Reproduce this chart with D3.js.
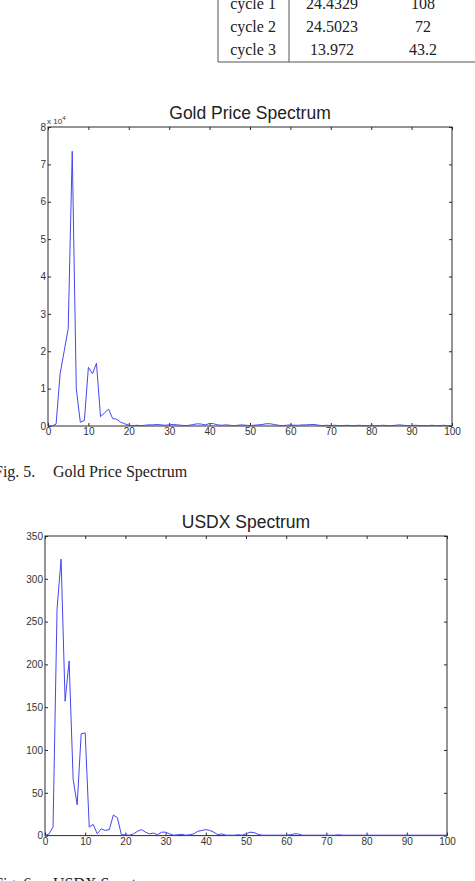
<!doctype html>
<html>
<head>
    <title>Spectrum charts</title>
    <script src='https://d3js.org/d3.v7.min.js'></script>
    <style>
        body { margin: 0; background: #fff; }
        svg { display: block; }
    </style>
</head>
<body>
<svg></svg>
</body>
<script>

    // table rows (top of the page, partly cut off)
    var cycleNames = ["cycle 1", "cycle 2", "cycle 3"];
    var cycleCol2 = ["24.4329", "24.5023", "13.972"];
    var cycleCol3 = ["108", "72", "43.2"];

    // frequency index 0..100
    var freq = d3.range(0, 101);

    // gold spectrum, units of 10^4
    var gold = [0, 0, 0.05, 1.4, 2.0, 2.6, 7.35, 1.0, 0.1, 0.15,
        1.57, 1.4, 1.68, 0.25, 0.35, 0.45, 0.2, 0.18, 0.1, 0.06,
        0.02, 0.01, 0.02, 0.01, 0.02, 0.03, 0.03, 0.04, 0.03, 0.02,
        0.03, 0.04, 0.03, 0.02, 0.01, 0.02, 0.04, 0.06, 0.05, 0.03,
        0.07, 0.06, 0.03, 0.02, 0.03, 0.02, 0.01, 0.02, 0.03, 0.02,
        0.01, 0.02, 0.03, 0.04, 0.06, 0.06, 0.04, 0.02, 0.01, 0.02,
        0.03, 0.02, 0.02, 0.03, 0.03, 0.04, 0.04, 0.02, 0.01, 0.02,
        0.01, 0.02, 0.01, 0.01, 0.02, 0.01, 0.01, 0.02, 0.01, 0.01,
        0.02, 0.01, 0.01, 0.02, 0.01, 0.01, 0.02, 0.03, 0.02, 0.01,
        0.01, 0.02, 0.01, 0.01, 0.01, 0.02, 0.01, 0.01, 0.02, 0.01,
        0.01];

    // USDX spectrum
    var usdx = [0, 2, 10, 265, 323, 157, 204, 66, 36, 119,
        120, 10, 13, 2, 8, 6, 7, 24, 21, 1,
        1, 0.5, 2, 5, 7, 4, 2, 3, 1, 4,
        4, 2, 0.5, 1, 1.5, 0.5, 1, 2, 5, 6,
        7, 6, 4, 1, 2, 0.5, 0.5, 0.5, 1, 0.5,
        2, 4, 3.5, 1.5, 0.5, 0.5, 0.5, 0.5, 0.5, 0.5,
        0.5, 1, 2, 2, 0.5, 0.5, 0.5, 0.5, 0.5, 0.5,
        0.5, 0.5, 0.5, 1, 0.5, 0.5, 0.5, 0.5, 0.5, 0.5,
        0.5, 0.5, 0.5, 0.5, 0.5, 0.5, 0.5, 0.5, 0.5, 0.5,
        0.5, 0.5, 0.5, 0.5, 0.5, 0.5, 0.5, 0.5, 0.5, 0.5,
        0.5];

    var xTicks = d3.range(0, 101, 10);
    var goldTicks = d3.range(0, 9, 1);
    var usdxTicks = d3.range(0, 351, 50);

    var svgWidth = 475, svgHeight = 881;
    var lineColor = '#4646ef';
    var axisColor = '#2a2a2a';

    var svg = d3.select('svg')
        .attr('width', svgWidth)
        .attr('height', svgHeight);

    // ---- table ----
    var serif = "'Liberation Serif', 'DejaVu Serif', serif";
    var tLeft = 218, tMid = 289, tBottom = 62;
    var rowY = [9, 32, 55];

    svg.append('line').attr('x1', tLeft).attr('x2', tLeft).attr('y1', 0).attr('y2', tBottom)
        .attr('stroke', '#555').attr('stroke-width', 1);
    svg.append('line').attr('x1', tMid).attr('x2', tMid).attr('y1', 0).attr('y2', tBottom)
        .attr('stroke', '#555').attr('stroke-width', 1);
    svg.append('line').attr('x1', tLeft).attr('x2', svgWidth).attr('y1', tBottom).attr('y2', tBottom)
        .attr('stroke', '#555').attr('stroke-width', 1);

    var cols = [[cycleNames, 253], [cycleCol2, 332], [cycleCol3, 423]];
    cols.forEach(function (c) {
        svg.append('g').selectAll('text')
            .data(c[0])
            .enter()
            .append('text')
            .text(function (d) { return d; })
            .attr('x', c[1])
            .attr('y', function (d, i) { return rowY[i]; })
            .attr('text-anchor', 'middle')
            .style('font-family', serif)
            .style('font-size', '16px')
            .attr('fill', '#222');
    });

    // ---- spectrum panel helper ----
    function panel(opts) {
        var x = d3.scaleLinear().domain([0, 100]).range([opts.left, opts.right]);
        var y = d3.scaleLinear().domain(opts.yDomain).range([opts.bottom, opts.top]);
        var g = svg.append('g');
        var font = "'Liberation Sans', Arial, sans-serif";

        function styleAxis(sel, labels) {
            sel.select('.domain').remove();
            sel.selectAll('.tick line').attr('stroke', axisColor);
            sel.selectAll('.tick text')
                .style('font-family', font)
                .style('font-size', '10px')
                .attr('fill', '#333');
            if (!labels) sel.selectAll('.tick text').remove();
        }

        g.append('g')
            .attr('transform', 'translate(0,' + opts.bottom + ')')
            .call(d3.axisBottom(x).tickValues(xTicks).tickSizeInner(-3).tickSizeOuter(0).tickPadding(2))
            .call(styleAxis, true);
        g.append('g')
            .attr('transform', 'translate(0,' + opts.top + ')')
            .call(d3.axisTop(x).tickValues(xTicks).tickSizeInner(-3).tickSizeOuter(0))
            .call(styleAxis, false);
        g.append('g')
            .attr('transform', 'translate(' + opts.left + ',0)')
            .call(d3.axisLeft(y).tickValues(opts.yTicks).tickSizeInner(-3).tickSizeOuter(0).tickPadding(2))
            .call(styleAxis, true);
        g.append('g')
            .attr('transform', 'translate(' + opts.right + ',0)')
            .call(d3.axisRight(y).tickValues(opts.yTicks).tickSizeInner(-3).tickSizeOuter(0))
            .call(styleAxis, false);

        // box
        g.append('rect')
            .attr('x', opts.left).attr('y', opts.top)
            .attr('width', opts.right - opts.left).attr('height', opts.bottom - opts.top)
            .attr('fill', 'none').attr('stroke', axisColor).attr('stroke-width', 1);

        var line = d3.line()
            .x(function (d, i) { return x(freq[i]); })
            .y(function (d) { return y(d); });

        g.append('path')
            .datum(opts.values)
            .attr('d', line)
            .attr('fill', 'none')
            .attr('stroke', lineColor)
            .attr('stroke-width', 1);

        g.append('text')
            .text(opts.title)
            .attr('x', (opts.left + opts.right) / 2)
            .attr('y', opts.top - 8)
            .attr('text-anchor', 'middle')
            .style('font-family', font)
            .style('font-size', '17.5px')
            .attr('fill', '#222');

        // caption: figure number, then the name
        g.append('text')
            .text(opts.figNo)
            .attr('x', -6)
            .attr('y', opts.captionY)
            .style('font-family', serif)
            .style('font-size', '16px')
            .attr('fill', '#222');
        g.append('text')
            .text(opts.caption)
            .attr('x', 53)
            .attr('y', opts.captionY)
            .style('font-family', serif)
            .style('font-size', '16px')
            .attr('fill', '#222');

        return g;
    }

    var goldPanel = panel({
        left: 48, right: 452, top: 127, bottom: 426,
        yDomain: [0, 8], yTicks: goldTicks, values: gold,
        title: 'Gold Price Spectrum',
        figNo: 'Fig. 5.', caption: 'Gold Price Spectrum', captionY: 477
    });

    // exponent label
    var expo = goldPanel.append('text')
        .attr('x', 47).attr('y', 124)
        .style('font-family', "'Liberation Sans', Arial, sans-serif")
        .style('font-size', '8px')
        .attr('fill', '#333');
    expo.append('tspan').text('x 10');
    expo.append('tspan').text('4').attr('dy', -4).style('font-size', '6px');

    panel({
        left: 45, right: 447, top: 536, bottom: 835.6,
        yDomain: [0, 350], yTicks: usdxTicks, values: usdx,
        title: 'USDX Spectrum',
        figNo: 'Fig. 6.', caption: 'USDX Spectrum', captionY: 889
    });

</script>
</html>
